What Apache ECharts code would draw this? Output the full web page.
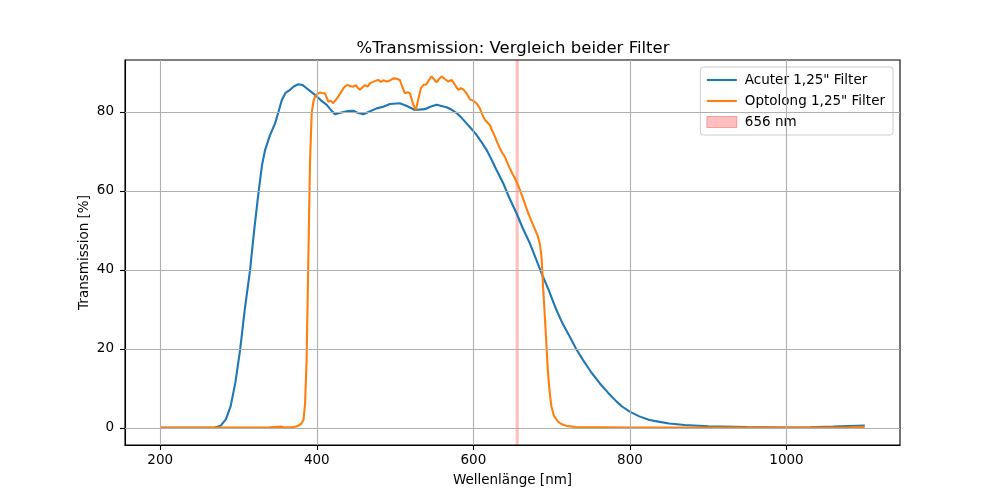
<!DOCTYPE html>
<html>
<head>
<meta charset="utf-8">
<script src="https://cdn.jsdelivr.net/npm/echarts@6/dist/echarts.min.js"></script>
<style>html,body{margin:0;padding:0;background:#fff;}#c{width:1000px;height:500px;}</style>
</head>
<body>
<div id="c"></div>
<script>
// Wavelengths (nm) and transmission (%)
const acuterWl = [200,250,270,277,284,290,296,302,308,314.8,320,325.4,330,334,340,346.7,351,355.3,360,365.9,371,376.5,382,387,392,397.8,405,412.7,418,423.3,430,440,446.7,452,459.4,466,476.5,485,493.5,506,515,525.4,538,545,553,565.8,572,578.6,585,591.3,598,604,610,616.8,623,629.6,638,646,655,663,672,680,687,696,706,714,723,731,740,750,761.4,772,782.7,790,799.7,812,825,838,850,870,900,950,1000,1030,1060,1080,1100];
const acuterT  = [0,0,0.1,0.5,2.2,5.5,11.5,19.7,30,40,50,59.4,66.5,70.4,74,77.1,80,83,84.8,85.6,86.5,87.0,86.8,86.0,85.2,84.3,83,81.8,80.5,79.4,79.8,80.2,80.3,79.8,79.4,80,80.9,81.3,82.0,82.2,81.5,80.5,80.7,81.3,81.8,81.2,80.6,79.7,78.5,77.1,75.6,74.2,72.5,70.4,68,65.3,62.0,58.2,54.4,50.6,46.8,42.8,39.2,35,29.9,26.4,23.1,20.1,17.2,14.2,11.3,8.9,6.7,5.4,4.1,2.9,2.0,1.5,1.1,0.7,0.4,0.2,0.1,0.15,0.3,0.45,0.6];

const optoWl = [200,300,340,355,358,370,375,380,383,385,387,389.2,391.4,393.5,395.5,397.8,401,404,407,410.5,414.7,418,421,424,427.5,431,434,437,440.3,443,446.7,450,452,455,458,461.6,465,468,470,474,478.5,482,485,489,493,497.7,502,506,509,512.6,516,519,523,526.6,530,533,536,540,543,546.6,550,553,556,559.4,563,567.9,572.2,576,580.7,584,587,591,595.6,600,604,608.3,611,614.7,618,621,624,627.5,630.5,633.8,637,640.2,643,646.6,650,653,656,659.4,664,670,676,682.6,685,687,688,689,690.8,692.5,694,695.4,697.5,699.7,703,708,713,719,730,800,900,1000,1050,1080,1100];
const optoT  = [0.1,0.1,0.15,0.3,0.1,0.2,0.4,1,2,6,17.2,42.5,67.8,79.7,82.5,83.9,84.6,84.9,84.8,84.7,82.6,82.8,82.2,83,83.9,85,86.0,86.6,86.8,86.5,86.4,86.8,86.2,85.6,86.2,86.8,86.4,87.3,87.2,87.8,88.1,87.6,88.0,87.7,87.9,88.5,88.4,88.1,86.5,84.7,85.0,84.7,82,80.5,83.5,86,86.8,87.0,88,89.0,88.2,87.5,88.3,89.0,88.4,87.7,88.1,87,85.6,86,85.7,84.8,83.2,82.8,82.2,80.9,79.5,78.0,77.3,76.7,75.3,73.8,72.3,70.8,69.6,68.7,67.3,65.7,64.3,63.2,61.9,60.3,57.8,54.4,51.5,48.4,46.5,43.4,40,35.8,30,24.0,18.5,13.8,9,5.4,3,1.6,0.9,0.5,0.2,0.1,0.1,0.1,0.1,0.15,0.25];

const xTicks = [200,400,600,800,1000];
const yTicks = [0,20,40,60,80];
const bandRange = [654,658];

const titleText = '%Transmission: Vergleich beider Filter';
const seriesNames = ['Acuter 1,25" Filter','Optolong 1,25" Filter','656 nm'];

const FONT = 'DejaVu Sans';
const pairs = (xs, ys) => xs.map((x, i) => [x, ys[i]]);

const chart = echarts.init(document.getElementById('c'), null, {renderer: 'canvas'});
const gridLines = [];
xTicks.forEach(v => gridLines.push({xAxis: v}));
yTicks.forEach(v => gridLines.push({yAxis: v}));

const lineIcon = 'path://M0,0 L30,0 L30,2.1 L0,2.1 Z';
const rectIcon = 'path://M0,0 L30,0 L30,11 L0,11 Z';

chart.setOption({
  animation: false,
  backgroundColor: '#fff',
  title: {
    text: titleText,
    left: 508,
    top: 35,
    textAlign: 'center',
    textStyle: {fontFamily: FONT, fontSize: 16.5, fontWeight: 'normal', color: '#000'}
  },
  grid: {left: 125, right: 100, top: 60, bottom: 55, show: true, borderColor: '#000', borderWidth: 1.1, backgroundColor: 'transparent'},
  legend: {
    orient: 'vertical',
    right: 107,
    top: 67,
    padding: [6, 8, 6, 6],
    itemGap: 7,
    itemWidth: 30,
    itemHeight: 14,
    backgroundColor: 'rgba(255,255,255,0.8)',
    borderColor: '#cccccc',
    borderWidth: 1,
    borderRadius: 3,
    textStyle: {fontFamily: FONT, fontSize: 13.5, color: '#000', padding: [0,0,0,3]},
    data: [
      {name: seriesNames[0], icon: lineIcon, itemStyle: {color: '#1f77b4'}},
      {name: seriesNames[1], icon: lineIcon, itemStyle: {color: '#ff7f0e'}},
      {name: seriesNames[2], icon: rectIcon, itemStyle: {color: 'rgba(255,0,0,0.25)', borderColor: 'rgba(255,0,0,0.3)', borderWidth: 1}}
    ]
  },
  xAxis: {
    type: 'value', min: 155, max: 1145,
    name: 'Wellenlänge [nm]', nameLocation: 'middle', nameGap: 28, nameMoveOverlap: false,
    nameTextStyle: {fontFamily: FONT, fontSize: 13.5, color: '#000', verticalAlign: 'top'},
    axisLine: {show: true, onZero: false, lineStyle: {color: '#000', width: 1.1}},
    axisTick: {show: true, inside: false, length: 5, customValues: xTicks, lineStyle: {color: '#000', width: 1.1}},
    axisLabel: {customValues: xTicks, formatter: v => String(v), fontFamily: FONT, fontSize: 13.5, color: '#000', margin: 8},
    splitLine: {show: false}
  },
  yAxis: {
    type: 'value', min: -4.35, max: 93.15,
    name: 'Transmission [%]', nameLocation: 'middle', nameGap: 34, nameMoveOverlap: false,
    nameTextStyle: {fontFamily: FONT, fontSize: 13.5, color: '#000'},
    axisLine: {show: true, onZero: false, lineStyle: {color: '#000', width: 1.1}},
    axisTick: {show: true, inside: false, length: 5, customValues: yTicks, lineStyle: {color: '#000', width: 1.1}},
    axisLabel: {customValues: yTicks, formatter: v => String(v), fontFamily: FONT, fontSize: 13.5, color: '#000', margin: 11},
    splitLine: {show: false}
  },
  series: [
    {
      name: '__grid', type: 'line', data: [], silent: true, z: 0,
      markLine: {silent: true, symbol: ['none','none'], label: {show: false}, animation: false,
        lineStyle: {color: '#b0b0b0', width: 1.1, type: 'solid'}, emphasis: {disabled: true}, data: gridLines}
    },
    {
      name: seriesNames[0], type: 'line', data: pairs(acuterWl, acuterT),
      showSymbol: false, symbol: 'none', z: 3,
      lineStyle: {color: '#1f77b4', width: 2.1}, itemStyle: {color: '#1f77b4'}
    },
    {
      name: seriesNames[1], type: 'line', data: pairs(optoWl, optoT),
      showSymbol: false, symbol: 'none', z: 4,
      lineStyle: {color: '#ff7f0e', width: 2.1}, itemStyle: {color: '#ff7f0e'}
    },
    {
      name: seriesNames[2], type: 'line', data: [], z: 5,
      itemStyle: {color: 'rgba(255,0,0,0.25)'},
      markArea: {silent: true, itemStyle: {color: 'rgba(255,0,0,0.25)'},
        data: [[{xAxis: bandRange[0]}, {xAxis: bandRange[1]}]]}
    }
  ]
});
</script>
</body>
</html>
